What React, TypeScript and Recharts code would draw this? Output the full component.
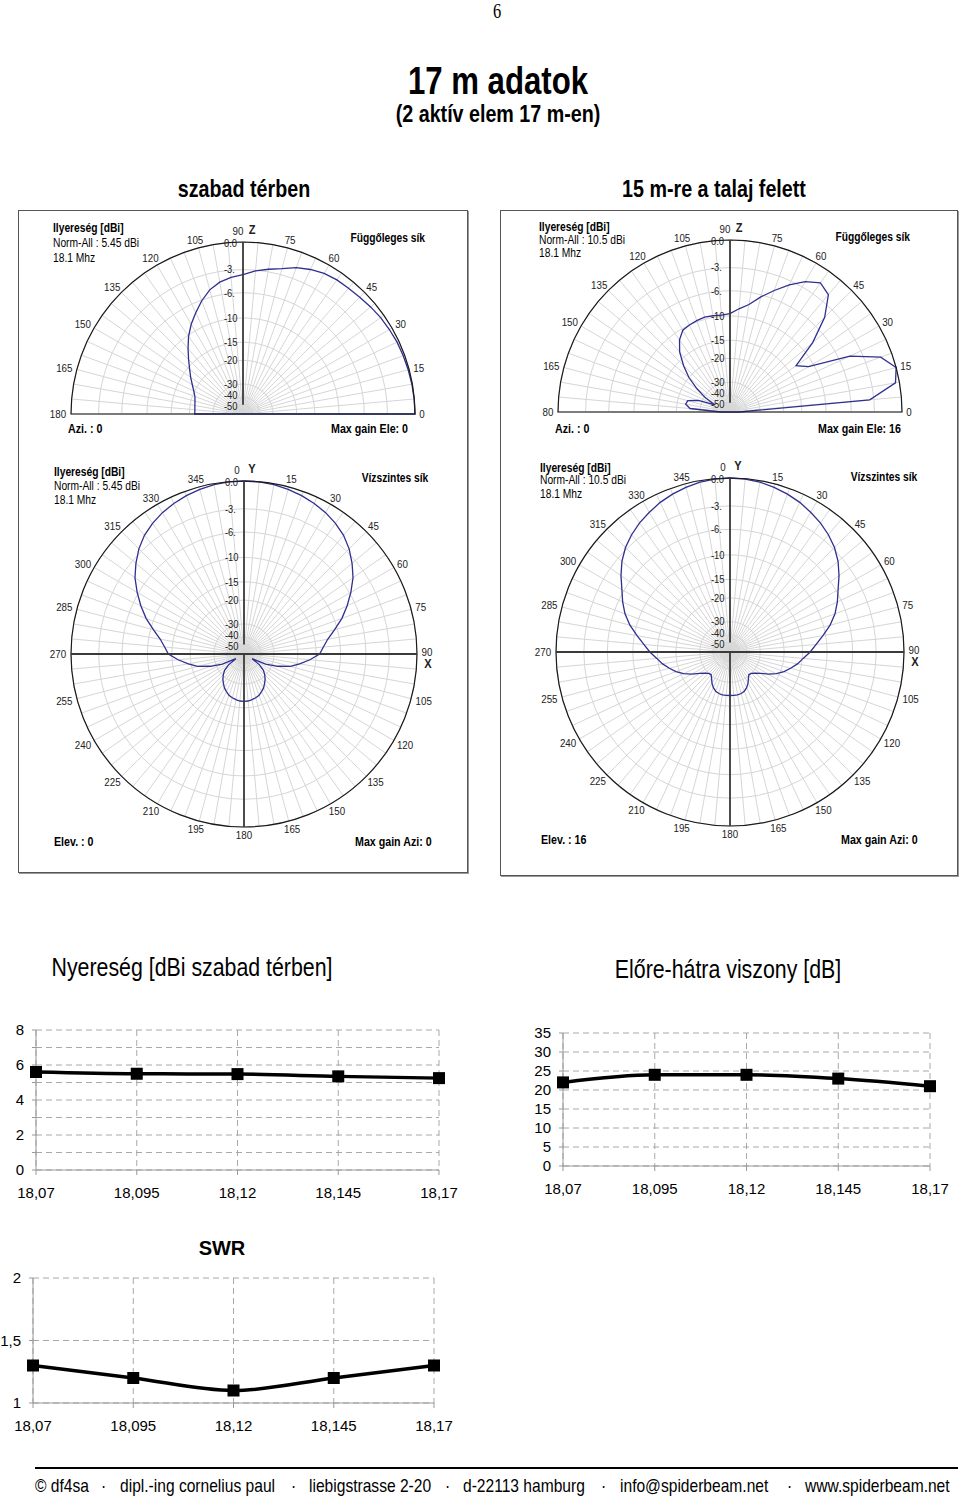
import React from "react";
import {
  CartesianGrid,
  Line,
  LineChart,
  PolarAngleAxis,
  PolarGrid,
  PolarRadiusAxis,
  Radar,
  RadarChart,
  XAxis,
  YAxis
} from "recharts";

const ARIAL = '"Liberation Sans", Arial, sans-serif';
const SQUEEZE = 0.82; // page fonts are Arial Narrow-like

// frequency sweep (MHz)
const FREQS = ["18,07", "18,095", "18,12", "18,145", "18,17"];
const GAIN_DBI = [5.6, 5.5, 5.48, 5.35, 5.25];
const FB_DB = [22, 24, 24, 23, 21];
const SWR_VALUES = [1.3, 1.2, 1.1, 1.2, 1.3];

const GAIN_TICKS = [0, 1, 2, 3, 4, 5, 6, 7, 8];
const FB_TICKS = [0, 5, 10, 15, 20, 25, 30, 35];
const SWR_TICKS = [1, 1.5, 2];

// polar plots (ARRL log scale rings)
const RING_DB = [0, -3, -6, -10, -15, -20, -30, -40, -50];
const RING_LABELS = ["0.0", "-3.", "-6.", "-10", "-15", "-20", "-30", "-40", "-50"];

const ANGLES_HALF = [
  0, 5, 10, 15, 20, 25, 30, 35, 40, 45, 50, 55, 60, 65, 70, 75, 80, 85, 90, 95, 100, 105, 110, 115,
  120, 125, 130, 135, 140, 145, 150, 155, 160, 165, 170, 175, 180
];
const ANGLES_FULL = [
  0, 5, 10, 15, 20, 25, 30, 35, 40, 45, 50, 55, 60, 65, 70, 75, 80, 85, 90, 95, 100, 105, 110, 115,
  120, 125, 130, 135, 140, 145, 150, 155, 160, 165, 170, 175, 180, 185, 190, 195, 200, 205, 210, 215,
  220, 225, 230, 235, 240, 245, 250, 255, 260, 265, 270, 275, 280, 285, 290, 295, 300, 305, 310, 315,
  320, 325, 330, 335, 340, 345, 350, 355
];

// elevation pattern, free space (dB rel. max)
const VERT_FREE = [
  0, -0.02, -0.05, -0.1, -0.15, -0.2, -0.3, -0.4, -0.55, -0.7, -0.8, -0.85, -1.0, -1.3, -1.7, -2.3,
  -2.7, -3.1, -3.6, -3.9, -4.3, -5.0, -6.1, -7.4, -8.7, -10.2, -12, -13.8, -15.5, -17, -18.5, -19.8,
  -20.8, -21.3, -21.6, -21.8, -21.8
];
// elevation pattern, 15 m above ground
const VERT_GROUND = [
  -50, -3.5, -0.4, 0, -1.2, -4.5, -11, -13, -8, -4.3, -2.0, -1.5, -2.3, -3.5, -4.9, -6.3, -7.8, -8.7,
  -9.6, -9.8, -9.7, -9.6, -9.8, -10, -10.3, -11.5, -13.5, -16.5, -20, -25, -31, -40, -28, -23.5, -23,
  -25, -50
];
// azimuth pattern, free space
const HORIZ_FREE = [
  0, -0.03, -0.1, -0.25, -0.45, -0.7, -1.0, -1.4, -1.9, -2.6, -3.5, -4.5, -5.8, -7.2, -8.7, -10.5,
  -12.2, -13.3, -14.2, -16.5, -19.2, -22, -27, -34, -50, -38, -33, -30.5, -28.5, -27, -25.5, -24.5,
  -23.5, -23, -22.6, -22.3, -22.2, -22.3, -22.6, -23, -23.5, -24.5, -25.5, -27, -28.5, -30.5, -33,
  -38, -50, -34, -27, -22, -19.2, -16.5, -14.2, -13.3, -12.2, -10.5, -8.7, -7.2, -5.8, -4.5, -3.5,
  -2.6, -1.9, -1.4, -1.0, -0.7, -0.45, -0.25, -0.1, -0.03
];
// azimuth pattern at 16 deg elevation, above ground
const HORIZ_GROUND = [
  0, -0.05, -0.15, -0.35, -0.6, -0.9, -1.3, -1.7, -2.2, -2.8, -3.6, -4.6, -5.7, -6.6, -7.6, -8.9,
  -10.5, -12, -13.3, -14.8, -16, -17.5, -19, -21, -23.5, -26.5, -28.5, -30, -30.5, -29, -27, -25.5,
  -24.5, -24, -23.8, -23.8, -23.8, -23.8, -23.8, -24, -24.5, -25.5, -27, -29, -30.5, -30, -28.5,
  -26.5, -23.5, -21, -19, -17.5, -16, -14.8, -13.3, -12, -10.5, -8.9, -7.6, -6.6, -5.7, -4.6, -3.6,
  -2.8, -2.2, -1.7, -1.3, -0.9, -0.6, -0.35, -0.15, -0.05
];

// ARRL log-periodic radius: 0 dB -> 1
const arrl = (db: number) => Math.pow(0.89, -db / 2);
const RADIUS_TICKS = RING_DB.map(arrl);

// narrow-looking svg text
function nText(
  key: string,
  x: number,
  y: number,
  content: string,
  opts: { size?: number; bold?: boolean; anchor?: "start" | "middle" | "end" } = {}
) {
  return (
    <text
      key={key}
      transform={`translate(${x},${y}) scale(0.85,1)`}
      x={0}
      y={0}
      dominantBaseline="central"
      textAnchor={opts.anchor ?? "middle"}
      fontSize={opts.size ?? 11.5}
      fontWeight={opts.bold ? "bold" : "normal"}
      fontFamily={ARIAL}
      fill="#222"
    >
      {content}
    </text>
  );
}

function ringTick(p: any) {
  const v = Number(p.payload?.value);
  let idx = 0;
  RADIUS_TICKS.forEach((t, i) => {
    if (Math.abs(t - v) < Math.abs(RADIUS_TICKS[idx] - v)) idx = i;
  });
  const nudge = idx === 7 ? -2 : idx === 8 ? 2 : idx === 0 ? 1 : 0;
  return nText(`rt${p.index}`, p.x - 19, p.y + nudge, RING_LABELS[idx], { size: 11, anchor: "start" });
}

function angleTick(p: any, kind: "v" | "h", over: Record<number, string>) {
  const v = Number(p.payload?.value);
  if (v % 15 !== 0) return <g key={`at${p.index}`} />;
  const a = (Number(p.payload?.coordinate) * Math.PI) / 180;
  const c = Math.cos(a);
  const s = Math.sin(a);
  const label = over[v] ?? String(v);
  const x = p.x + c * label.length * 3;
  const y = p.y - s * 4;
  if (kind === "h" && v === 0) {
    return (
      <g key={`at${p.index}`}>
        {nText("a", p.x - 7, y - 3, "0")}
        {nText("b", p.x + 8, y - 4, "Y", { size: 13, bold: true })}
      </g>
    );
  }
  if (kind === "h" && v === 90) {
    return (
      <g key={`at${p.index}`}>
        {nText("a", x, y - 2, "90")}
        {nText("b", x + 1, y + 10, "X", { size: 13, bold: true })}
      </g>
    );
  }
  if (kind === "v" && v === 90) {
    return (
      <g key={`at${p.index}`}>
        {nText("a", p.x - 5, y - 3, "90")}
        {nText("b", p.x + 9, y - 4, "Z", { size: 13, bold: true })}
      </g>
    );
  }
  return nText(`at${p.index}`, x, y, label);
}

type PolarProps = {
  left: number;
  top: number;
  height: number;
  cx: number;
  cy: number;
  r: number;
  half: boolean;
  angles: number[];
  gain: number[];
  over?: Record<number, string>;
};

function PolarPlot({ left, top, height, cx, cy, r, half, angles, gain, over = {} }: PolarProps) {
  const data = angles.map((deg, i) => ({ deg, g: arrl(gain[i]) }));
  const axisLine = { stroke: "#3a3a3a", strokeWidth: 1.8 };
  return (
    <div style={{ position: "absolute", left, top }}>
      <RadarChart
        width={440}
        height={height}
        data={data}
        margin={{ top: 0, right: 0, bottom: 0, left: 0 }}
        cx={cx}
        cy={cy}
        outerRadius={r}
        startAngle={half ? 0 : 90}
        endAngle={half ? 180 : -270}
      >
        <PolarGrid gridType={half ? "polygon" : "circle"} stroke="#d6d6d6" strokeWidth={1} />
        <Radar
          dataKey="g"
          stroke="#2f2f90"
          strokeWidth={1.3}
          fill="none"
          fillOpacity={0}
          dot={false}
          isAnimationActive={false}
        />
        <PolarAngleAxis
          dataKey="deg"
          type="number"
          domain={half ? [0, 180] : [0, 360]}
          ticks={angles}
          tickLine={false}
          tickSize={4}
          axisLineType={half ? "polygon" : "circle"}
          axisLine={{ stroke: "#1a1a1a", strokeWidth: 1.2 }}
          tick={(p: any) => angleTick(p, half ? "v" : "h", over)}
        />
        <PolarRadiusAxis
          angle={90}
          type="number"
          domain={[0, 1]}
          allowDataOverflow
          ticks={RADIUS_TICKS}
          tick={ringTick}
          axisLine={axisLine}
        />
        {!half && (
          <PolarRadiusAxis radiusAxisId="s" angle={270} type="number" domain={[0, 1]} allowDataOverflow tick={false} axisLine={axisLine} />
        )}
        {!half && (
          <PolarRadiusAxis radiusAxisId="e" angle={0} type="number" domain={[0, 1]} allowDataOverflow tick={false} axisLine={axisLine} />
        )}
        {!half && (
          <PolarRadiusAxis radiusAxisId="w" angle={180} type="number" domain={[0, 1]} allowDataOverflow tick={false} axisLine={axisLine} />
        )}
      </RadarChart>
    </div>
  );
}

function squareDot(p: any) {
  if (p.cx == null || p.cy == null) return <g key={`d${p.index}`} />;
  return <rect key={`d${p.index}`} x={p.cx - 6} y={p.cy - 6} width={12} height={12} fill="#000" />;
}

type SweepProps = {
  left: number;
  top: number;
  width: number;
  height: number;
  margin: { top: number; right: number; bottom: number; left: number };
  values: number[];
  domain: [number, number];
  ticks: number[];
  fmt: (v: number) => string;
};

function SweepChart({ left, top, width, height, margin, values, domain, ticks, fmt }: SweepProps) {
  const data = FREQS.map((f, i) => ({ f, v: values[i] }));
  const tickStyle = { fill: "#000", fontSize: 15, fontFamily: ARIAL };
  return (
    <div style={{ position: "absolute", left, top }}>
      <LineChart width={width} height={height} data={data} margin={margin}>
        <CartesianGrid stroke="#a8a8a8" strokeDasharray="6 4" />
        <XAxis
          dataKey="f"
          interval={0}
          height={30}
          tick={tickStyle}
          tickSize={5}
          tickMargin={12}
          tickLine={{ stroke: "#999" }}
          axisLine={{ stroke: "#999" }}
        />
        <YAxis
          type="number"
          domain={domain}
          ticks={ticks}
          interval={0}
          width={30}
          tick={tickStyle}
          tickSize={4}
          tickMargin={8}
          tickFormatter={fmt}
          tickLine={{ stroke: "#999" }}
          axisLine={{ stroke: "#999" }}
        />
        <Line
          type="monotone"
          dataKey="v"
          stroke="#000"
          strokeWidth={3.5}
          dot={squareDot}
          activeDot={false}
          isAnimationActive={false}
        />
      </LineChart>
    </div>
  );
}

function Txt({
  x,
  y,
  size,
  children,
  bold = false,
  family = ARIAL,
  align = "center",
  squeeze = SQUEEZE
}: {
  x: number;
  y: number;
  size: number;
  children: React.ReactNode;
  bold?: boolean;
  family?: string;
  align?: "center" | "left" | "right";
  squeeze?: number;
}) {
  const lh = Math.round(size);
  const style: React.CSSProperties = {
    position: "absolute",
    top: y - lh / 2,
    lineHeight: `${lh}px`,
    fontSize: size,
    fontFamily: family,
    fontWeight: bold ? "bold" : "normal",
    whiteSpace: "nowrap",
    color: "#000",
    transform: `scaleX(${squeeze})`
  };
  if (align === "center") {
    style.left = x - 300;
    style.width = 600;
    style.textAlign = "center";
    style.transformOrigin = "50% 50%";
  } else if (align === "left") {
    style.left = x;
    style.transformOrigin = "0 50%";
  } else {
    style.right = 960 - x;
    style.transformOrigin = "100% 50%";
  }
  return <div style={style}>{children}</div>;
}

const FOOTER = [
  "© df4sa",
  "·",
  "dipl.-ing cornelius paul",
  "·",
  "liebigstrasse 2-20",
  "·",
  "d-22113 hamburg",
  "·",
  "info@spiderbeam.net",
  "·",
  "www.spiderbeam.net"
];
const FOOTER_X = [35, 101, 120, 291, 309, 445, 463, 601, 620, 787, 805];

export default function App() {
  const panel: React.CSSProperties = {
    position: "absolute",
    border: "1px solid #555",
    boxShadow: "1px 1px 0 #999",
    background: "#fff"
  };
  return (
    <div style={{ position: "absolute", left: 0, top: 0, width: 960, height: 1497, background: "#fff" }}>
      <Txt x={497} y={11} size={20} family={'"Liberation Serif", serif'}>6</Txt>
      <Txt x={498} y={81} size={38} bold>17 m adatok</Txt>
      <Txt x={498} y={114} size={24} bold>(2 aktív elem 17 m-en)</Txt>
      <Txt x={244} y={189} size={24} bold>szabad térben</Txt>
      <Txt x={714} y={189} size={24} bold>15 m-re a talaj felett</Txt>

      <div style={{ ...panel, left: 18, top: 210, width: 448, height: 661 }} />
      <div style={{ ...panel, left: 500, top: 210, width: 456, height: 664 }} />

      <PolarPlot left={23} top={214} height={220} cx={220} cy={200} r={172} half angles={ANGLES_HALF} gain={VERT_FREE} />
      <PolarPlot left={510} top={212} height={220} cx={220} cy={200} r={172} half angles={ANGLES_HALF} gain={VERT_GROUND} over={{ 180: "80" }} />
      <PolarPlot left={24} top={454} height={400} cx={220} cy={200} r={173} half={false} angles={ANGLES_FULL} gain={HORIZ_FREE} />
      <PolarPlot left={510} top={452} height={400} cx={220} cy={200} r={174} half={false} angles={ANGLES_FULL} gain={HORIZ_GROUND} />

      {/* top-left panel texts */}
      <Txt x={53} y={228} size={12.5} bold align="left">Ilyereség [dBi]</Txt>
      <Txt x={53} y={243} size={12.5} align="left">Norm-All : 5.45 dBi</Txt>
      <Txt x={53} y={258} size={12.5} align="left">18.1 Mhz</Txt>
      <Txt x={425} y={238} size={12.5} bold align="right">Függőleges sík</Txt>
      <Txt x={68} y={428} size={13} bold align="left">Azi. : 0</Txt>
      <Txt x={331} y={428} size={13} bold align="left">Max gain Ele:  0</Txt>

      {/* top-right panel texts */}
      <Txt x={539} y={227} size={12.5} bold align="left">Ilyereség [dBi]</Txt>
      <Txt x={539} y={240} size={12.5} align="left">Norm-All : 10.5 dBi</Txt>
      <Txt x={539} y={253} size={12.5} align="left">18.1 Mhz</Txt>
      <Txt x={910} y={237} size={12.5} bold align="right">Függőleges sík</Txt>
      <Txt x={555} y={428} size={13} bold align="left">Azi. : 0</Txt>
      <Txt x={818} y={428} size={13} bold align="left">Max gain Ele: 16</Txt>

      {/* bottom-left panel texts */}
      <Txt x={54} y={472} size={12.5} bold align="left">Ilyereség [dBi]</Txt>
      <Txt x={54} y={486} size={12.5} align="left">Norm-All : 5.45 dBi</Txt>
      <Txt x={54} y={500} size={12.5} align="left">18.1 Mhz</Txt>
      <Txt x={428} y={478} size={12.5} bold align="right">Vízszintes sík</Txt>
      <Txt x={54} y={841} size={13} bold align="left">Elev. : 0</Txt>
      <Txt x={355} y={841} size={13} bold align="left">Max gain Azi: 0</Txt>

      {/* bottom-right panel texts */}
      <Txt x={540} y={468} size={12.5} bold align="left">Ilyereség [dBi]</Txt>
      <Txt x={540} y={480} size={12.5} align="left">Norm-All : 10.5 dBi</Txt>
      <Txt x={540} y={494} size={12.5} align="left">18.1 Mhz</Txt>
      <Txt x={917} y={477} size={12.5} bold align="right">Vízszintes sík</Txt>
      <Txt x={541} y={839} size={13} bold align="left">Elev. : 16</Txt>
      <Txt x={841} y={839} size={13} bold align="left">Max gain Azi: 0</Txt>

      <Txt x={192} y={967} size={26}>Nyereség [dBi szabad térben]</Txt>
      <Txt x={728} y={969} size={26}>Előre-hátra viszony [dB]</Txt>

      <SweepChart
        left={0}
        top={1020}
        width={460}
        height={200}
        margin={{ top: 10, right: 21, bottom: 20, left: 6 }}
        values={GAIN_DBI}
        domain={[0, 8]}
        ticks={GAIN_TICKS}
        fmt={(v) => (v % 2 === 0 ? String(v) : "")}
      />
      <SweepChart
        left={480}
        top={1023}
        width={480}
        height={200}
        margin={{ top: 10, right: 30, bottom: 27, left: 53 }}
        values={FB_DB}
        domain={[0, 35]}
        ticks={FB_TICKS}
        fmt={(v) => String(v)}
      />

      <Txt x={222} y={1248} size={20} bold squeeze={1}>SWR</Txt>
      <SweepChart
        left={0}
        top={1268}
        width={460}
        height={170}
        margin={{ top: 10, right: 26, bottom: 5, left: 3 }}
        values={SWR_VALUES}
        domain={[1, 2]}
        ticks={SWR_TICKS}
        fmt={(v) => String(v).replace(".", ",")}
      />

      <div style={{ position: "absolute", left: 35, top: 1467, width: 923, height: 2, background: "#000" }} />
      {FOOTER.map((t, i) => (
        <Txt key={i} x={FOOTER_X[i]} y={1485} size={19} align="left">
          {t}
        </Txt>
      ))}
    </div>
  );
}
